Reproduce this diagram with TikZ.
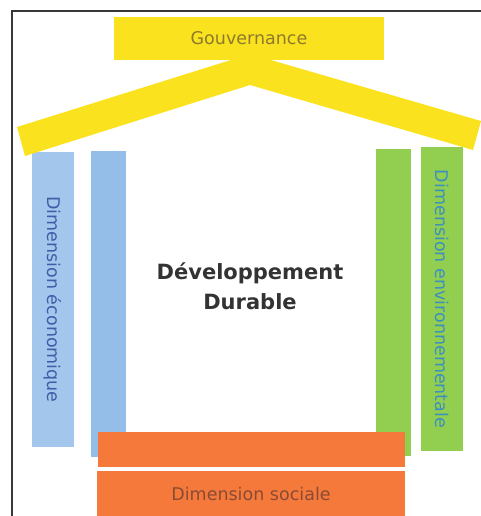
\documentclass[tikz,border=0pt]{standalone}
\usepackage{fontspec}
\setmainfont{DejaVu Sans}
\definecolor{yel}{RGB}{250,226,30}
\definecolor{blueA}{RGB}{163,199,236}
\definecolor{blueB}{RGB}{148,189,232}
\definecolor{grn}{RGB}{146,207,80}
\definecolor{org}{RGB}{244,121,58}
\definecolor{govtxt}{RGB}{140,122,46}
\definecolor{ecotxt}{RGB}{63,93,168}
\definecolor{envtxt}{RGB}{61,143,190}
\definecolor{soctxt}{RGB}{138,75,53}
\definecolor{frame}{RGB}{55,55,55}
\tikzset{
  bar/.style={inner sep=0pt, outer sep=0pt, draw=none},
  lbl/.style={font=\fontsize{17.5}{20}\selectfont},
}
\begin{document}
\begin{tikzpicture}[x=1pt,y=-1pt]
\useasboundingbox (0,0) rectangle (481,516);
% frame
\coordinate (fb) at (12,517);
\coordinate (fc) at (12,11);
\coordinate (fr) at (482,11);
\draw[frame, line width=2pt] (fb) -- (fc) -- (fr);
% pillars
\node[bar, fill=blueA, lbl, text=ecotxt, rotate=-90, minimum width=295pt, minimum height=42pt] (eco) at (53,299.5) {Dimension économique};
\node[bar, fill=blueB, minimum width=35pt, minimum height=306pt] (blue2) at (108.5,304) {};
\node[bar, fill=grn, minimum width=35pt, minimum height=307pt] (grn1) at (393.5,302.5) {};
\node[bar, fill=grn, lbl, text=envtxt, rotate=-90, minimum width=304pt, minimum height=42pt] (env) at (442,299) {Dimension environnementale};
% floor
\node[bar, fill=org, minimum width=307pt, minimum height=35pt] (org1) at (251.5,449.5) {};
\node[bar, fill=org, lbl, text=soctxt, minimum width=308pt, minimum height=45pt] (soc) at (251,493.5) {Dimension sociale};
% roof
\fill[yel] (17,127) -- (250,54) -- (481,121) -- (473,150) -- (250,85) -- (25,156) -- cycle;
\node[bar, fill=yel, lbl, text=govtxt, minimum width=270pt, minimum height=43pt] (gov) at (249,38.5) {Gouvernance};
% centre
\node[align=center, font=\bfseries\fontsize{21}{30}\selectfont, text={rgb,255:red,51;green,51;blue,51}] (dd) at (250,286) {Développement\\Durable};
\end{tikzpicture}
\end{document}
